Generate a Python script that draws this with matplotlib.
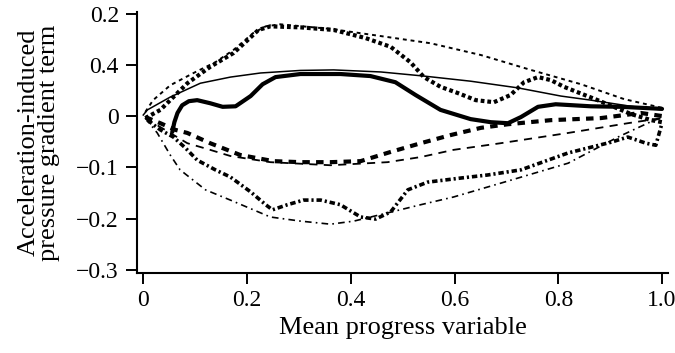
import matplotlib
matplotlib.use("Agg")
import matplotlib.pyplot as plt

plt.rcParams['font.family'] = ['Liberation Serif', 'DejaVu Serif']

# curves (mean progress variable, term value)
x_thin_solid = [0.0, 0.008, 0.052, 0.11, 0.168, 0.226, 0.303, 0.367, 0.458, 0.541, 0.631, 0.722, 0.805, 0.863, 0.94, 1.0]
y_thin_solid = [0.002, 0.012, 0.037, 0.064, 0.076, 0.084, 0.089, 0.090, 0.086, 0.078, 0.068, 0.055, 0.039, 0.031, 0.019, 0.012]

x_thick_solid = [0.056, 0.060, 0.066, 0.075, 0.088, 0.104, 0.129, 0.153, 0.178, 0.207, 0.23, 0.255, 0.303, 0.38, 0.438, 0.486,
                 0.525, 0.573, 0.631, 0.67, 0.703, 0.728, 0.761, 0.795, 0.863, 0.921, 1.0]
y_thick_solid = [-0.031, -0.012, 0.006, 0.021, 0.029, 0.031, 0.025, 0.018, 0.019, 0.039, 0.062, 0.076, 0.082, 0.082, 0.078, 0.066,
                 0.041, 0.012, -0.006, -0.012, -0.014, -0.002, 0.018, 0.023, 0.019, 0.018, 0.014]

x_thick_dot = [0.004, 0.033, 0.062, 0.085, 0.129, 0.174, 0.201, 0.222, 0.245, 0.303, 0.367, 0.429, 0.477, 0.515, 0.541,
               0.573, 0.606, 0.641, 0.676, 0.708, 0.734, 0.761, 0.786, 0.811, 0.876, 0.94, 0.979, 1.0]
y_thick_dot = [-0.004, 0.012, 0.041, 0.064, 0.096, 0.123, 0.148, 0.168, 0.175, 0.173, 0.168, 0.152, 0.135, 0.105, 0.076,
               0.057, 0.045, 0.031, 0.027, 0.041, 0.066, 0.076, 0.070, 0.057, 0.031, 0.004, -0.008, -0.012]

x_thin_dot = [0.004, 0.019, 0.052, 0.097, 0.139, 0.174, 0.212, 0.236, 0.264, 0.361, 0.458, 0.554, 0.651, 0.747, 0.844, 0.927, 1.0]
y_thin_dot = [0.008, 0.031, 0.060, 0.084, 0.105, 0.129, 0.162, 0.175, 0.179, 0.170, 0.156, 0.142, 0.119, 0.090, 0.062, 0.033, 0.016]

x_thick_dash = [0.004, 0.033, 0.062, 0.085, 0.129, 0.187, 0.251, 0.303, 0.361, 0.419, 0.477, 0.535, 0.593, 0.651, 0.703,
                0.786, 0.882, 0.959, 1.0]
y_thick_dash = [-0.002, -0.014, -0.027, -0.033, -0.053, -0.076, -0.088, -0.090, -0.090, -0.088, -0.070, -0.053, -0.037,
                -0.023, -0.016, -0.008, -0.004, 0.006, 0.0]

x_thin_dash = [0.004, 0.042, 0.085, 0.129, 0.168, 0.245, 0.361, 0.471, 0.535, 0.598, 0.689, 0.819, 0.934, 1.0]
y_thin_dash = [-0.004, -0.027, -0.053, -0.066, -0.078, -0.090, -0.096, -0.090, -0.080, -0.066, -0.053, -0.033, -0.014, -0.004]

x_thick_dashdot = [0.008, 0.033, 0.058, 0.081, 0.104, 0.139, 0.168, 0.207, 0.236, 0.249, 0.278, 0.309, 0.342, 0.38, 0.419,
                   0.448, 0.477, 0.51, 0.548, 0.612, 0.664, 0.728, 0.819, 0.902, 0.934, 0.969, 0.988, 1.0]
y_thick_dashdot = [-0.008, -0.027, -0.041, -0.062, -0.086, -0.105, -0.119, -0.148, -0.173, -0.183, -0.173, -0.164, -0.164,
                   -0.173, -0.197, -0.201, -0.187, -0.144, -0.129, -0.121, -0.115, -0.105, -0.072, -0.051, -0.041, -0.053,
                   -0.057, -0.014]

x_thin_dashdot = [0.004, 0.027, 0.052, 0.071, 0.12, 0.168, 0.245, 0.303, 0.361, 0.406, 0.471, 0.535, 0.598, 0.689, 0.819,
                  0.915, 0.985, 1.0]
y_thin_dashdot = [-0.004, -0.033, -0.076, -0.105, -0.144, -0.164, -0.197, -0.205, -0.211, -0.205, -0.189, -0.173, -0.158,
                  -0.131, -0.092, -0.041, -0.008, -0.004]

x_ticks = [0, 0.2, 0.4, 0.6, 0.8, 1.0]
x_labels = ['0', '0.2', '0.4', '0.6', '0.8', '1.0']
y_ticks = [-0.3, -0.2, -0.1, 0, 0.1, 0.2]
y_labels = ['\u22120.3', '\u22120.2', '\u22120.1', '0', '0.4', '0.2']

fig = plt.figure(figsize=(6.75, 3.53), dpi=100)
ax = fig.add_axes([0.203, 0.227, 0.787, 0.739])

ax.plot(x_thin_solid, y_thin_solid, color='black', lw=1.1)
ax.plot(x_thick_solid, y_thick_solid, color='black', lw=3.0, solid_capstyle='round')
ax.plot(x_thick_dot, y_thick_dot, color='black', lw=3.0, dashes=(0.9, 0.7))
ax.plot(x_thin_dot, y_thin_dot, color='black', lw=1.4, dashes=(2.0, 2.0))
ax.plot(x_thick_dash, y_thick_dash, color='black', lw=3.0, dashes=(1.8, 1.5))
ax.plot(x_thin_dash, y_thin_dash, color='black', lw=1.3, dashes=(4.5, 3.5))
ax.plot(x_thick_dashdot, y_thick_dashdot, color='black', lw=2.6, dashes=(1.5, 0.8, 0.6, 0.8))
ax.plot(x_thin_dashdot, y_thin_dashdot, color='black', lw=1.2, dashes=(4.0, 2.5, 1.0, 2.5))

ax.set_xlim(-0.012, 1.012)
ax.set_ylim(-0.306, 0.203)

ax.set_xticks(x_ticks, x_labels)
ax.set_yticks(y_ticks, y_labels)
ax.tick_params(axis='both', direction='out', length=8, width=1.4, labelsize=17)
ax.tick_params(axis='x', pad=4)
ax.tick_params(axis='y', pad=5)

for side in ['top', 'right']:
    ax.spines[side].set_visible(False)
for side in ['left', 'bottom']:
    ax.spines[side].set_linewidth(1.5)

ax.set_xlabel('Mean progress variable', fontsize=19, labelpad=5)
ax.set_ylabel('Acceleration-induced\npressure gradient term', fontsize=19, labelpad=12, linespacing=0.85)

fig.savefig('out.png', dpi=100)
